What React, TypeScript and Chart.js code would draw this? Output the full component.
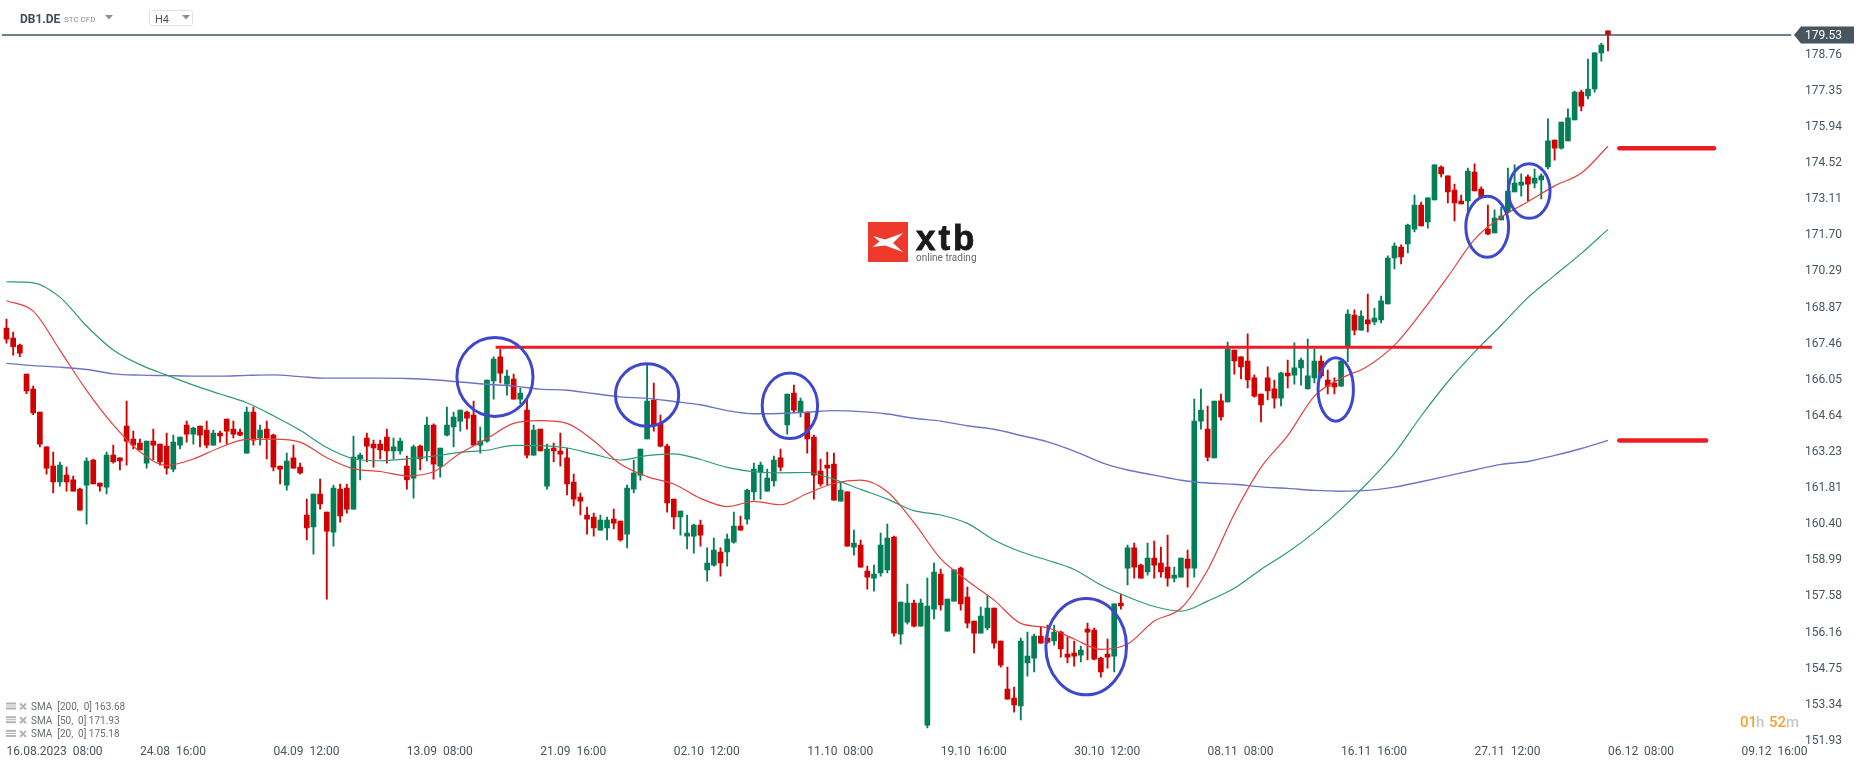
import React, { useEffect, useRef } from 'react';
import { Chart, registerables } from 'chart.js';

Chart.register(...registerables);

const opens = [
  168.07, 167.68, 167.40, 166.27, 165.68, 164.78, 163.42, 162.67, 162.05, 162.32,
  162.13, 161.77, 161.93, 162.91, 162.01, 161.85, 163.10, 162.99, 164.24, 163.73,
  163.57, 162.79, 163.65, 163.53, 163.45, 162.55, 163.49, 164.28, 163.92, 164.24,
  164.08, 163.49, 163.96, 164.51, 164.12, 164.00, 163.18, 164.78, 163.77, 164.12,
  163.88, 162.67, 161.93, 162.99, 162.63, 160.76, 160.29, 161.58, 160.87, 160.09,
  161.77, 161.81, 160.99, 162.95, 163.77, 163.53, 163.53, 163.81, 163.26, 163.26,
  162.67, 162.20, 163.45, 163.26, 164.28, 162.67, 163.88, 164.20, 164.43, 164.78,
  164.67, 163.49, 163.65, 166.00, 166.94, 165.88, 166.07, 165.29, 164.86, 163.10,
  164.12, 161.89, 163.38, 163.26, 162.99, 162.05, 161.46, 160.76, 160.68, 160.17,
  160.25, 160.60, 160.52, 160.01, 161.77, 162.32, 163.73, 165.25, 164.35, 163.45,
  161.38, 160.68, 159.93, 159.93, 160.36, 158.61, 158.80, 159.31, 159.31, 159.70,
  160.33, 160.60, 161.66, 162.44, 161.69, 162.09, 162.99, 164.28, 165.53, 164.78,
  164.78, 163.81, 162.48, 162.71, 162.75, 161.30, 161.66, 159.50, 159.58, 158.57,
  158.29, 158.49, 158.61, 159.90, 156.10, 156.57, 157.31, 156.41, 152.54, 157.08,
  158.45, 156.22, 157.39, 158.68, 157.55, 156.61, 156.14, 156.34, 157.12, 155.83,
  153.95, 153.60, 153.29, 154.97, 155.16, 156.02, 155.95, 155.83, 156.18, 155.32,
  155.36, 155.28, 156.30, 156.26, 155.16, 155.32, 155.24, 157.31, 158.68, 159.47,
  158.80, 158.53, 159.07, 158.88, 158.72, 158.29, 158.33, 159.03, 158.68, 164.43,
  164.12, 162.99, 165.22, 165.18, 167.21, 166.94, 166.78, 166.12, 165.49, 166.12,
  165.69, 165.33, 166.31, 166.23, 166.51, 165.69, 166.12, 166.78, 166.04, 165.92,
  165.80, 167.34, 168.58, 167.99, 168.39, 168.31, 168.39, 169.01, 170.81, 171.24,
  171.36, 171.94, 172.88, 172.22, 173.08, 174.37, 174.02, 173.47, 173.04, 173.04,
  174.17, 173.51, 171.94, 171.79, 172.30, 172.61, 173.39, 173.66, 173.98, 173.74,
  173.86, 174.37, 175.42, 175.11, 175.39, 176.21, 177.30, 177.15, 177.42, 178.83,
  179.69,
];

const highs = [
  168.42, 167.91, 167.44, 166.27, 165.80, 164.78, 163.42, 163.22, 162.83, 162.63,
  162.28, 161.81, 162.99, 162.95, 162.01, 163.22, 163.49, 162.99, 165.21, 164.04,
  163.73, 163.65, 164.12, 163.53, 163.96, 163.88, 163.81, 164.43, 164.20, 164.24,
  164.43, 164.08, 164.04, 164.51, 164.43, 164.12, 164.98, 164.98, 164.28, 164.43,
  163.92, 162.67, 163.18, 163.49, 162.79, 161.38, 161.58, 162.16, 160.87, 161.93,
  161.97, 161.97, 163.85, 163.18, 163.96, 163.69, 163.69, 164.12, 163.77, 163.77,
  163.06, 163.49, 163.49, 164.59, 164.32, 163.38, 164.98, 164.78, 164.86, 164.82,
  165.21, 164.20, 166.04, 166.94, 167.25, 166.43, 166.27, 165.72, 165.25, 164.28,
  164.12, 163.53, 163.57, 163.96, 163.38, 162.36, 161.62, 161.07, 160.83, 160.76,
  160.68, 160.99, 160.52, 161.93, 162.91, 163.34, 166.66, 165.92, 164.67, 163.53,
  161.38, 160.91, 160.76, 160.40, 160.56, 159.47, 159.86, 159.47, 160.01, 160.87,
  160.72, 161.77, 162.79, 162.83, 162.55, 163.06, 163.34, 165.49, 165.84, 165.33,
  164.78, 163.88, 162.95, 163.22, 163.18, 162.01, 161.66, 160.17, 159.78, 158.76,
  158.80, 160.05, 160.40, 159.93, 157.35, 158.06, 157.43, 157.47, 158.29, 158.88,
  158.64, 157.47, 158.61, 158.72, 157.94, 156.61, 157.16, 157.63, 157.12, 155.83,
  154.81, 154.03, 155.95, 156.18, 156.10, 156.38, 156.45, 156.45, 156.22, 155.98,
  155.83, 155.63, 156.53, 156.34, 155.20, 155.91, 157.28, 157.67, 159.58, 159.66,
  158.84, 159.66, 159.74, 159.50, 159.97, 158.72, 159.07, 159.39, 165.29, 165.68,
  165.02, 165.21, 165.49, 167.52, 167.21, 166.94, 167.84, 166.23, 165.49, 166.55,
  166.04, 166.35, 166.82, 167.49, 166.90, 167.64, 167.25, 166.98, 166.43, 166.12,
  166.78, 168.78, 168.78, 168.74, 169.40, 168.85, 169.32, 170.89, 171.40, 171.32,
  172.14, 173.27, 173.00, 173.16, 174.45, 174.41, 174.02, 173.70, 173.27, 174.33,
  174.49, 173.59, 172.88, 172.69, 172.80, 174.33, 174.45, 174.10, 174.06, 174.29,
  174.10, 176.25, 175.42, 176.13, 176.64, 177.34, 177.38, 178.59, 178.83, 179.22,
  179.69,
];

const lows = [
  167.48, 167.01, 166.95, 165.50, 164.68, 163.42, 162.36, 161.62, 161.89, 161.69,
  161.69, 160.95, 160.40, 161.97, 161.69, 161.58, 162.79, 162.52, 162.71, 163.34,
  163.30, 162.59, 162.91, 162.71, 162.36, 162.44, 163.34, 163.61, 163.53, 163.42,
  163.38, 163.49, 163.61, 163.53, 163.77, 163.85, 163.18, 163.49, 163.49, 162.95,
  162.48, 161.97, 161.73, 162.59, 162.36, 159.78, 159.23, 160.99, 157.47, 159.54,
  160.48, 160.83, 160.99, 162.13, 162.83, 162.63, 162.95, 162.79, 162.95, 163.14,
  161.77, 161.42, 162.52, 162.87, 162.16, 162.24, 163.85, 163.42, 164.04, 164.12,
  163.49, 163.18, 163.61, 165.29, 165.92, 165.45, 165.29, 165.10, 162.99, 163.10,
  163.26, 161.77, 162.83, 162.67, 161.54, 161.11, 160.76, 160.01, 159.93, 160.17,
  159.78, 160.21, 159.74, 159.47, 161.62, 162.12, 163.73, 164.04, 163.42, 160.87,
  160.21, 159.97, 159.43, 159.27, 159.54, 158.17, 158.76, 158.37, 158.76, 159.66,
  160.17, 160.40, 161.34, 161.38, 161.69, 161.89, 162.48, 163.92, 164.75, 164.59,
  163.18, 161.38, 161.89, 161.93, 161.34, 161.30, 159.54, 159.19, 158.72, 157.86,
  157.78, 158.37, 158.49, 156.02, 155.71, 156.49, 156.38, 156.41, 152.43, 156.69,
  157.04, 156.22, 157.39, 157.04, 156.34, 155.36, 156.14, 156.26, 155.55, 154.81,
  153.56, 153.05, 152.74, 154.46, 154.62, 155.75, 155.75, 155.67, 155.20, 154.97,
  154.85, 155.01, 155.09, 155.09, 154.42, 154.77, 154.62, 157.08, 158.02, 158.29,
  158.29, 158.41, 158.29, 158.33, 157.98, 158.14, 158.33, 157.94, 158.33, 164.12,
  162.87, 162.99, 164.47, 165.18, 166.27, 166.08, 165.73, 165.37, 164.40, 165.26,
  164.94, 165.02, 165.73, 165.88, 165.84, 165.69, 165.92, 166.12, 165.49, 165.49,
  165.80, 166.76, 167.80, 167.99, 167.92, 168.19, 168.27, 169.01, 170.38, 170.58,
  171.01, 171.83, 172.06, 171.98, 173.08, 173.98, 172.96, 172.26, 172.92, 172.49,
  173.43, 173.20, 171.71, 171.79, 172.30, 172.56, 173.39, 173.23, 173.04, 173.55,
  173.12, 174.29, 174.64, 175.07, 175.39, 176.21, 176.56, 177.03, 177.30, 178.51,
  178.91,
];

const closes = [
  167.64, 167.34, 167.09, 165.61, 164.75, 163.53, 162.59, 162.05, 162.71, 162.05,
  161.69, 160.95, 162.87, 161.97, 161.89, 163.10, 162.83, 162.87, 163.65, 163.49,
  163.30, 163.65, 163.49, 162.83, 162.59, 163.61, 163.81, 163.92, 164.16, 163.88,
  163.49, 163.96, 163.85, 164.04, 163.92, 163.88, 164.78, 163.69, 164.08, 163.77,
  162.63, 162.55, 162.87, 162.59, 162.40, 160.25, 161.58, 161.19, 160.13, 161.81,
  160.72, 160.99, 163.02, 163.10, 163.45, 163.38, 163.30, 163.26, 163.42, 163.65,
  162.13, 163.42, 162.95, 164.28, 162.75, 163.38, 164.28, 164.59, 164.86, 164.55,
  163.49, 163.65, 166.04, 166.86, 166.31, 166.19, 165.29, 165.53, 163.10, 164.08,
  163.26, 163.34, 163.26, 163.14, 161.97, 161.38, 161.30, 160.60, 160.25, 160.56,
  160.56, 160.44, 159.78, 161.81, 162.40, 163.34, 165.21, 164.24, 163.45, 161.23,
  160.68, 160.91, 160.05, 160.36, 159.97, 158.88, 159.39, 158.88, 159.82, 160.33,
  160.17, 161.73, 162.55, 162.71, 162.20, 162.91, 162.63, 165.49, 164.86, 165.21,
  163.73, 162.32, 161.97, 162.59, 161.34, 161.73, 159.54, 159.66, 158.72, 158.33,
  158.45, 159.58, 159.86, 156.14, 157.35, 157.31, 156.41, 157.31, 157.20, 158.53,
  157.24, 157.47, 158.61, 157.28, 156.53, 156.14, 156.81, 157.12, 155.75, 154.89,
  153.56, 153.33, 155.83, 155.24, 156.02, 155.75, 155.79, 156.18, 155.52, 155.20,
  155.24, 155.48, 156.18, 155.12, 154.62, 155.20, 157.28, 157.20, 159.47, 158.72,
  158.29, 159.07, 158.80, 158.53, 158.29, 158.41, 159.07, 158.68, 164.43, 164.86,
  163.02, 165.21, 164.59, 167.25, 166.78, 166.55, 166.04, 165.41, 165.06, 165.61,
  165.33, 166.31, 166.20, 166.51, 166.82, 166.20, 166.78, 166.20, 165.80, 165.77,
  166.78, 168.62, 167.99, 168.54, 168.23, 168.46, 169.13, 170.81, 171.28, 170.85,
  172.10, 172.88, 172.06, 173.16, 174.45, 174.10, 173.39, 172.96, 172.92, 174.21,
  173.43, 173.20, 171.75, 172.37, 172.45, 173.43, 173.74, 173.78, 173.70, 173.94,
  174.02, 175.39, 175.11, 176.13, 176.29, 177.30, 176.75, 177.42, 178.83, 179.14,
  179.53,
];

// moving averages
const sma20 = [
  169.14, 168.73, 167.21, 165.63, 164.28, 163.23, 162.70, 162.95, 163.40, 163.72, 163.73, 163.61,
  163.00, 162.57, 162.46, 162.29, 162.45, 163.17, 163.75, 164.34, 164.45, 164.34, 163.66,
  162.75, 162.26, 161.97, 161.41, 161.09, 161.29, 161.16, 161.60, 161.99, 162.12, 161.67, 160.46,
  159.05, 158.19, 157.43, 156.52, 156.35, 155.91, 155.50, 155.71, 156.61, 157.11, 158.61,
  160.80, 162.62, 163.86, 165.41, 166.10, 166.58, 167.40, 168.67, 170.08, 171.54, 172.41, 173.01,
  173.63, 174.13, 175.18,
];
const sma50 = [
  169.88, 169.84, 169.28, 168.15, 167.21, 166.64, 166.23, 165.84, 165.49, 165.15, 164.64, 164.07,
  163.40, 162.96, 162.88, 162.95, 163.06, 163.21, 163.29, 163.48, 163.47, 163.38, 163.14,
  162.91, 163.08, 163.15, 162.93, 162.62, 162.45, 162.41, 162.42, 162.15, 161.76, 161.38, 160.93,
  160.76, 160.43, 159.78, 159.32, 158.99, 158.63, 158.02, 157.56, 157.18, 157.00, 157.39,
  157.89, 158.63, 159.30, 160.08, 160.99, 162.02, 163.17, 164.63, 165.97, 167.13, 168.18, 169.26,
  170.13, 170.99, 171.93,
];
const sma200 = [
  166.69, 166.60, 166.54, 166.45, 166.28, 166.23, 166.21, 166.19, 166.19, 166.22, 166.24, 166.17,
  166.11, 166.11, 166.11, 166.10, 166.05, 165.96, 165.87, 165.80, 165.68, 165.64, 165.51,
  165.38, 165.32, 165.20, 165.07, 164.84, 164.72, 164.73, 164.78, 164.84, 164.80, 164.71, 164.54,
  164.43, 164.25, 164.11, 163.87, 163.62, 163.26, 162.82, 162.52, 162.32, 162.12, 162.01,
  161.96, 161.86, 161.80, 161.72, 161.69, 161.72, 161.85, 162.06, 162.29, 162.52, 162.74, 162.85,
  163.09, 163.36, 163.68,
];
const smaEvery = 4;

const priceTicks = [
  178.76, 177.35, 175.94, 174.52, 173.11, 171.70, 170.29, 168.87, 167.46, 166.05,
  164.64, 163.23, 161.81, 160.40, 158.99, 157.58, 156.16, 154.75, 153.34, 151.93,
];
const timeTicks = [
  '16.08.2023  08:00', '24.08  16:00', '04.09  12:00', '13.09  08:00', '21.09  16:00',
  '02.10  12:00', '11.10  08:00', '19.10  16:00', '30.10  12:00', '08.11  08:00',
  '16.11  16:00', '27.11  12:00', '06.12  08:00', '09.12  16:00',
];
const barsPerTick = 20;

const lastPrice = 179.53;

// hand drawn levels on the chart
const resistance = { bars: [73.3, 222.6], price: 167.32 };
const upperTarget = { bars: [241.7, 255.9], price: 175.1 };
const lowerTarget = { bars: [241.7, 254.7], price: 163.67 };

// hand drawn ellipses: centre bar / price, radius in bars / price
const circleBars = [73.2, 96.0, 117.4, 161.8, 199.2, 221.9, 228.2];
const circlePrices = [166.16, 165.45, 165.03, 155.61, 165.67, 172.03, 173.43];
const circleRadiusBars = [5.7, 4.74, 4.15, 6.04, 2.65, 3.21, 3.12];
const circleRadiusPrices = [1.545, 1.22, 1.28, 1.885, 1.24, 1.19, 1.07];

const legendLines = ['SMA  [200,  0] 163.68', 'SMA  [50,  0] 171.93', 'SMA  [20,  0] 175.18'];

const GREEN = '#037f58';
const RED = '#d20000';
const SLATE = '#46555f';
const FONT = 'Roboto';

const xMin = -0.974;
const xMax = 267.5;

const overlay = {
  id: 'overlay',
  beforeDatasetsDraw(chart: Chart) {
    const ctx = chart.ctx;
    ctx.save();
    // xtb logo
    ctx.fillStyle = '#ee3a2c';
    ctx.fillRect(868, 222, 40, 40);
    ctx.fillStyle = '#fff';
    ctx.beginPath();
    ctx.moveTo(873, 236);
    ctx.lineTo(885, 239.5);
    ctx.lineTo(903, 233);
    ctx.lineTo(893, 243);
    ctx.lineTo(903, 252);
    ctx.lineTo(885, 245.5);
    ctx.lineTo(872.5, 247);
    ctx.lineTo(879.5, 241.5);
    ctx.closePath();
    ctx.fill();
    ctx.fillStyle = '#1a1a1a';
    ctx.strokeStyle = '#1a1a1a';
    ctx.lineWidth = 0.8;
    ctx.font = `bold 35px "Liberation Sans"`;
    ctx.textAlign = 'left';
    ctx.textBaseline = 'alphabetic';
    (ctx as any).letterSpacing = '3px';
    ctx.fillText('xtb', 916, 250);
    ctx.strokeText('xtb', 916, 250);
    (ctx as any).letterSpacing = '0px';
    ctx.fillStyle = '#666';
    ctx.font = `10px ${FONT}`;
    ctx.fillText('online trading', 916, 261);
    ctx.restore();
  },
  afterDraw(chart: Chart) {
    const ctx = chart.ctx;
    const x = chart.scales.x;
    const y = chart.scales.y;
    ctx.save();
    ctx.textAlign = 'left';

    ctx.strokeStyle = '#3f48cc';
    ctx.lineWidth = 3;
    circleBars.forEach((bar, i) => {
      const cx = x.getPixelForValue(bar);
      const cy = y.getPixelForValue(circlePrices[i]);
      const rx = x.getPixelForValue(bar + circleRadiusBars[i]) - cx;
      const ry = cy - y.getPixelForValue(circlePrices[i] + circleRadiusPrices[i]);
      ctx.beginPath();
      ctx.ellipse(cx, cy, rx, ry, 0, 0, Math.PI * 2);
      ctx.stroke();
    });

    // price tag
    const py = y.getPixelForValue(lastPrice);
    ctx.fillStyle = SLATE;
    ctx.beginPath();
    ctx.moveTo(1794, py);
    ctx.lineTo(1801, py - 8.5);
    ctx.lineTo(1854, py - 8.5);
    ctx.lineTo(1854, py + 8.5);
    ctx.lineTo(1801, py + 8.5);
    ctx.closePath();
    ctx.fill();
    ctx.fillStyle = '#fff';
    ctx.font = `12px ${FONT}`;
    ctx.textBaseline = 'middle';
    ctx.fillText(lastPrice.toFixed(2), 1805, py + 1);

    // header
    ctx.fillStyle = '#3e4d57';
    ctx.font = `bold 12px ${FONT}`;
    ctx.fillText('DB1.DE', 20, 19.5);
    ctx.fillStyle = '#8a9197';
    ctx.font = `8px ${FONT}`;
    ctx.fillText('STC CFD', 64, 19.5);
    const arrows = [105, 182];
    ctx.fillStyle = '#8a8f93';
    arrows.forEach((ax) => {
      ctx.beginPath();
      ctx.moveTo(ax, 15);
      ctx.lineTo(ax + 8, 15);
      ctx.lineTo(ax + 4, 19.5);
      ctx.closePath();
      ctx.fill();
    });
    ctx.strokeStyle = '#dfe2e4';
    ctx.lineWidth = 1;
    ctx.beginPath();
    ctx.roundRect(149.5, 10.5, 43, 15, 2);
    ctx.stroke();
    ctx.fillStyle = '#46555f';
    ctx.font = `11px ${FONT}`;
    ctx.fillText('H4', 155, 20);

    // legend of the moving averages
    legendLines.forEach((line, i) => {
      const ly = 707.5 + i * 13.7;
      ctx.fillStyle = '#b4b4b4';
      ctx.fillRect(6, ly - 5, 10, 2);
      ctx.fillRect(6, ly - 2, 10, 1);
      ctx.fillRect(6, ly, 10, 2);
      ctx.strokeStyle = '#b4b4b4';
      ctx.lineWidth = 2;
      ctx.beginPath();
      ctx.moveTo(20, ly - 4);
      ctx.lineTo(26, ly + 2);
      ctx.moveTo(26, ly - 4);
      ctx.lineTo(20, ly + 2);
      ctx.stroke();
      ctx.fillStyle = '#6b6f72';
      ctx.font = `10px ${FONT}`;
      ctx.fillText(line, 31, ly);
    });

    // countdown
    const pieces: [string, number, string][] = [
      ['01', 1740, '#f7a033'],
      ['h', 1756, '#c4c8ca'],
      ['52', 1769, '#f7a033'],
      ['m', 1786, '#c4c8ca'],
    ];
    ctx.font = `500 15px ${FONT}`;
    pieces.forEach(([text, tx, colour]) => {
      ctx.fillStyle = colour;
      ctx.fillText(text, tx, 723);
    });
    ctx.restore();
  },
};

export default function App() {
  const canvasRef = useRef<HTMLCanvasElement>(null);

  useEffect(() => {
    if (!canvasRef.current) return;
    const bodies = opens.map((o, i) => ({ x: i, y: [o, closes[i]] }));
    const wicks = highs.map((h, i) => ({ x: i, y: [lows[i], h] }));
    const colours = opens.map((o, i) => (closes[i] >= o ? GREEN : RED));
    const smaPoints = (values: number[]) => values.map((v, i) => ({ x: i * smaEvery, y: v }));
    const level = (bars: number[], price: number) => bars.map((b) => ({ x: b, y: price }));

    const noPadding = (scale: any) => {
      scale.paddingLeft = 0;
      scale.paddingRight = 0;
      scale.paddingTop = 0;
      scale.paddingBottom = 0;
    };

    const chart = new Chart(canvasRef.current, {
      type: 'bar',
      data: {
        datasets: [
          { type: 'line', data: level(resistance.bars, resistance.price), borderColor: '#ed1c24', borderWidth: 3, pointRadius: 0, order: 0 },
          { type: 'line', data: level(upperTarget.bars, upperTarget.price), borderColor: '#ed1c24', borderWidth: 4.5, borderCapStyle: 'round', pointRadius: 0, order: 0 },
          { type: 'line', data: level(lowerTarget.bars, lowerTarget.price), borderColor: '#ed1c24', borderWidth: 4.5, borderCapStyle: 'round', pointRadius: 0, order: 0 },
          { type: 'line', data: smaPoints(sma20), borderColor: '#e2413f', borderWidth: 1.2, pointRadius: 0, cubicInterpolationMode: 'monotone', order: 1 },
          { type: 'line', data: smaPoints(sma50), borderColor: '#2c9a75', borderWidth: 1.2, pointRadius: 0, cubicInterpolationMode: 'monotone', order: 1 },
          { type: 'line', data: smaPoints(sma200), borderColor: '#6d74c4', borderWidth: 1.4, pointRadius: 0, cubicInterpolationMode: 'monotone', order: 1 },
          { type: 'line', data: level([-0.7, xMax], lastPrice), borderColor: SLATE, borderWidth: 1.5, pointRadius: 0, order: 1 },
          { data: bodies, backgroundColor: colours, grouped: false, barThickness: 5, order: 2 },
          { data: wicks, backgroundColor: colours, grouped: false, barThickness: 1.2, order: 3 },
        ],
      } as any,
      options: {
        responsive: false,
        animation: false,
        layout: { padding: 0 },
        plugins: { legend: { display: false }, tooltip: { enabled: false } },
        scales: {
          x: {
            type: 'linear',
            offset: false,
            min: xMin,
            max: xMax,
            grid: { display: false, drawTicks: false },
            border: { display: false },
            afterBuildTicks: (scale: any) => {
              scale.ticks = timeTicks.map((_, i) => ({ value: i * barsPerTick }));
            },
            afterFit: (scale: any) => {
              scale.height = 26;
              noPadding(scale);
            },
            ticks: {
              autoSkip: false,
              maxRotation: 0,
              align: 'start',
              padding: 4,
              color: SLATE,
              font: { size: 12, family: FONT },
              callback: (v: any) => timeTicks[Number(v) / barsPerTick],
            },
          },
          y: {
            type: 'linear',
            position: 'right',
            min: 151.92,
            max: 180.9,
            grid: { display: false, drawTicks: false },
            border: { display: false },
            afterBuildTicks: (scale: any) => {
              scale.ticks = priceTicks.map((p) => ({ value: p }));
            },
            afterFit: (scale: any) => {
              scale.width = 74.5;
              noPadding(scale);
            },
            ticks: {
              autoSkip: false,
              crossAlign: 'near',
              padding: 13.5,
              color: SLATE,
              font: { size: 12, family: FONT },
              callback: (v: any) => Number(v).toFixed(2),
            },
          },
        },
      },
      plugins: [overlay],
    } as any);

    return () => chart.destroy();
  }, []);

  return (
    <div style={{ position: 'absolute', left: 0, top: 0, width: 1866, height: 767, background: '#fff' }}>
      <canvas ref={canvasRef} width={1866} height={767} style={{ display: 'block' }} />
    </div>
  );
}
